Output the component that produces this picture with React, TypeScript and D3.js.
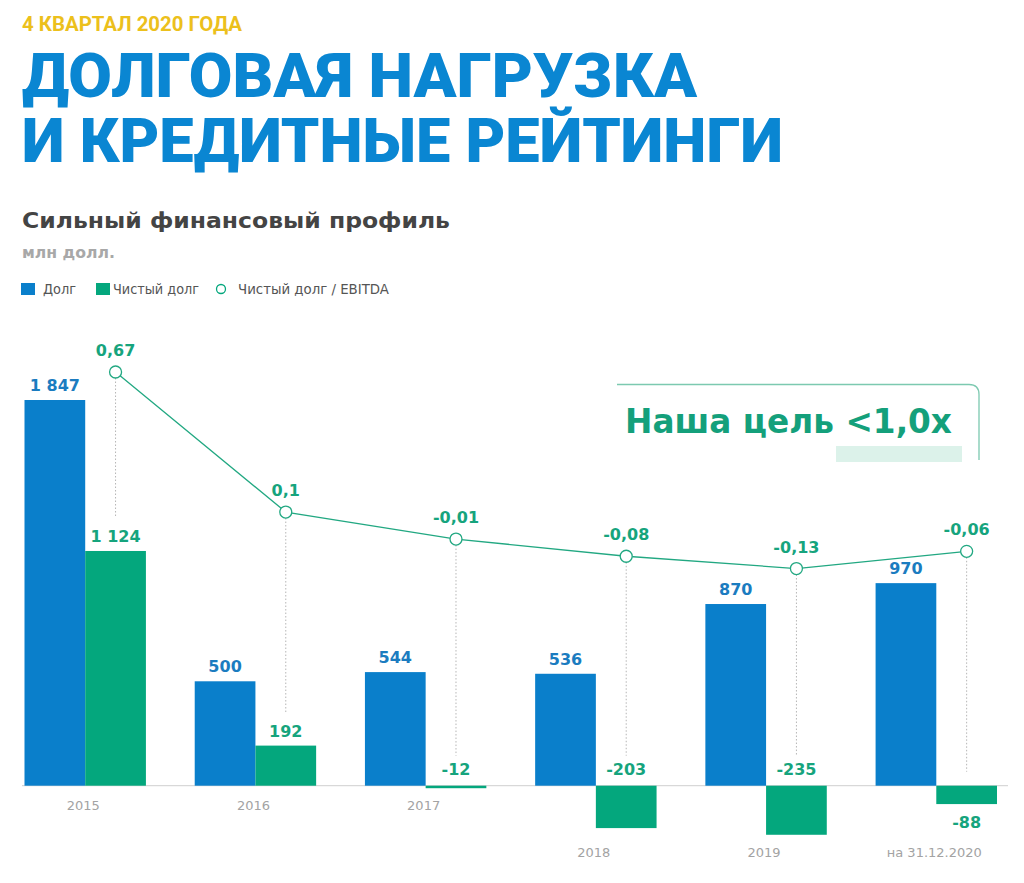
import React from 'react';
import * as d3 from 'd3';

const categories = ['2015', '2016', '2017', '2018', '2019', 'на 31.12.2020'];
const debt = [1847, 500, 544, 536, 870, 970];
const netDebt = [1124, 192, -12, -203, -235, -88];
const ratio = [0.67, 0.1, -0.01, -0.08, -0.13, -0.06];

const legendItems = ['Долг', 'Чистый долг', 'Чистый долг / EBITDA'];
const kicker = '4 КВАРТАЛ 2020 ГОДА';
const titleLines = ['ДОЛГОВАЯ НАГРУЗКА', 'И КРЕДИТНЫЕ РЕЙТИНГИ'];
const subtitle = 'Сильный финансовый профиль';
const unit = 'млн долл.';
const targetText = 'Наша цель <1,0х';

const BLUE = '#0a7fcb';
const GREEN = '#04a77d';
const LABEL_BLUE = '#1b7cc0';
const LABEL_GREEN = '#16a47d';
const SANS = '"DejaVu Sans", Verdana, sans-serif';

const locale = d3.formatLocale({ decimal: ',', thousands: ' ', grouping: [3], currency: ['', ''], minus: '-' });
const fmtInt = locale.format(',d');
const fmtRatio = (v: number) => locale.format('~g')(v);

export default function App() {
  const W = 1024, H = 883;
  const baseY = 785.7;
  const x = d3.scaleBand<string>().domain(categories).range([24.5, 997]).paddingInner(0.2867).paddingOuter(0);
  const half = x.bandwidth() / 2;
  const y = d3.scaleLinear().domain([0, 1847]).range([baseY, 400]);
  const yr = d3.scaleLinear().domain([0, 0.67]).range([536.6, 372]);
  const ptX = (i: number) => (x(categories[i]) as number) + half * 1.5;
  const line = d3.line<number>().x((_, i) => ptX(i)).y((d) => yr(d));
  const last = categories.length - 1;

  return (
    <svg width={W} height={H} style={{ position: 'absolute', left: 0, top: 0, background: '#fff' }} fontFamily={SANS}>
      <rect width={W} height={H} fill="#fff" />
      {/* Header */}
      <text x={22} y={31} fill="#ecc01c" fontFamily="Roboto, sans-serif" fontWeight={700} fontSize={20} textLength={220} lengthAdjust="spacingAndGlyphs">{kicker}</text>
      <text transform="translate(22,97) scale(1,1.12)" fill="#0a86d2" fontFamily="Roboto, sans-serif" fontWeight={900} fontSize={55} textLength={675} lengthAdjust="spacingAndGlyphs">{titleLines[0]}</text>
      <text transform="translate(22,162) scale(1,1.12)" fill="#0a86d2" fontFamily="Roboto, sans-serif" fontWeight={900} fontSize={55} textLength={761} lengthAdjust="spacingAndGlyphs">{titleLines[1]}</text>
      <text x={22} y={228} fill="#444" fontWeight={700} fontSize={21} textLength={428} lengthAdjust="spacingAndGlyphs">{subtitle}</text>
      <text x={22} y={258} fill="#a8a8a8" fontWeight={700} fontSize={15} textLength={93} lengthAdjust="spacingAndGlyphs">{unit}</text>

      {/* Legend */}
      <rect x={21} y={283} width={14} height={12} fill={BLUE} />
      <text x={43} y={293.5} fill="#555" fontSize={13.5} textLength={33} lengthAdjust="spacingAndGlyphs">{legendItems[0]}</text>
      <rect x={96} y={283} width={14} height={12} fill={GREEN} />
      <text x={113} y={293.5} fill="#555" fontSize={13.5} textLength={86} lengthAdjust="spacingAndGlyphs">{legendItems[1]}</text>
      <circle cx={221} cy={289} r={4.5} fill="#fff" stroke={GREEN} strokeWidth={1.3} />
      <text x={238} y={293.5} fill="#555" fontSize={13.5} textLength={151} lengthAdjust="spacingAndGlyphs">{legendItems[2]}</text>

      {/* Target annotation */}
      <path d={`M617,384.5 H969 Q979,384.5 979,394.5 V460`} fill="none" stroke="#7cc9b0" strokeWidth={1.3} />
      <rect x={836} y={446} width={126} height={16} fill="#dcf2ea" />
      <text x={625} y={433} fill="#14a07b" fontWeight={700} fontSize={33} textLength={327} lengthAdjust="spacingAndGlyphs">{targetText}</text>

      {/* Baseline */}
      <line x1={22} x2={1008} y1={baseY} y2={baseY} stroke="#cfcfcf" strokeWidth={1} />

      {/* Bars */}
      {categories.map((c, i) => {
        const x0 = x(c) as number;
        const yb = y(debt[i]);
        const yn = y(Math.max(netDebt[i], 0));
        const yn2 = y(Math.min(netDebt[i], 0));
        return (
          <g key={c}>
            <rect x={x0} y={yb} width={half} height={baseY - yb} fill={BLUE} />
            <rect x={x0 + half} y={yn} width={half} height={Math.max(yn2 - yn, 2.5)} fill={GREEN} />
          </g>
        );
      })}

      {/* Dotted drop lines */}
      {categories.map((c, i) => {
        const cx = ptX(i);
        const top = yr(ratio[i]) + 6;
        let end: number;
        if (i === last) end = baseY - 14;
        else if (netDebt[i] >= 0) end = y(netDebt[i]) - 33;
        else end = baseY - 30;
        return <line key={'d' + c} x1={cx} x2={cx} y1={top} y2={end} stroke="#b5b5b5" strokeWidth={1} strokeDasharray="1.5,2" />;
      })}

      {/* Ratio line */}
      <path d={line(ratio) as string} fill="none" stroke="#22a882" strokeWidth={1.3} />
      {ratio.map((v, i) => (
        <g key={'r' + i}>
          <circle cx={ptX(i)} cy={yr(v)} r={6} fill="#fff" stroke="#22a882" strokeWidth={1.3} />
          <text x={ptX(i)} y={yr(v) - 16} textAnchor="middle" fill={LABEL_GREEN} fontWeight={700} fontSize={16}>{fmtRatio(v)}</text>
        </g>
      ))}

      {/* Value labels */}
      {categories.map((c, i) => {
        const x0 = x(c) as number;
        const nd = netDebt[i];
        let ny: number;
        if (nd >= 0) ny = y(nd) - 9;
        else if (i === last) ny = y(nd) + 24;
        else ny = baseY - 11;
        return (
          <g key={'l' + c}>
            <text x={x0 + half / 2} y={y(debt[i]) - 9} textAnchor="middle" fill={LABEL_BLUE} fontWeight={700} fontSize={16}>{fmtInt(debt[i])}</text>
            <text x={x0 + half * 1.5} y={ny} textAnchor="middle" fill={LABEL_GREEN} fontWeight={700} fontSize={16}>{fmtInt(nd)}</text>
          </g>
        );
      })}

      {/* Category labels */}
      {categories.map((c, i) => (
        <text key={'c' + c} x={(x(c) as number) + half - 2} y={netDebt[i] < -50 ? 857 : 810} textAnchor="middle" fill="#a3a3a3" fontSize={13}>{c}</text>
      ))}
    </svg>
  );
}
